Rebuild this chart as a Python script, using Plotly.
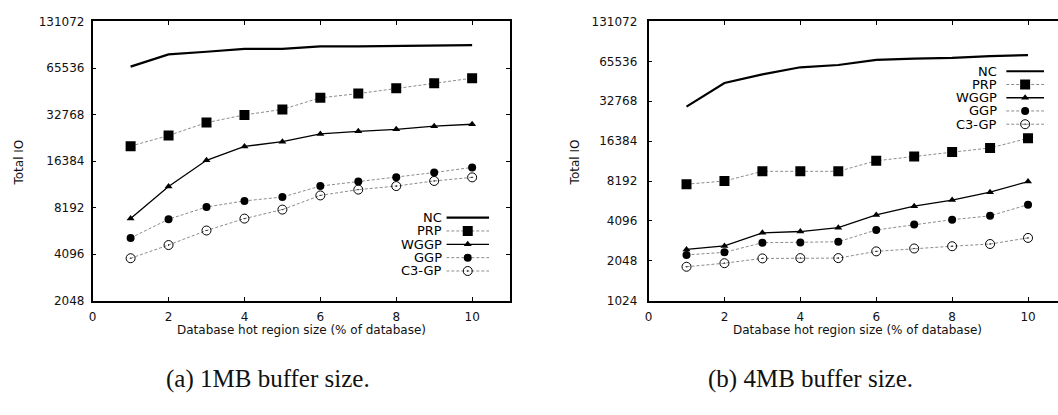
import math
import plotly.graph_objects as go

# ---------------- data ----------------
x_vals = [1, 2, 3, 4, 5, 6, 7, 8, 9, 10]
series_names = ["NC", "PRP", "WGGP", "GGP", "C3-GP"]

# (a) 1MB buffer size
nc_1mb = [66900, 80350, 83500, 87200, 87200, 90600, 90600, 91000, 92300, 92300]
prp_1mb = [20480, 23990, 29070, 32600, 35400, 42070, 44770, 48540, 52170, 56340]
wggp_1mb = [6960, 11245, 16580, 20380, 21900, 24580, 25530, 26290, 27580, 28370]
ggp_1mb = [5218, 6894, 8273, 9062, 9593, 11300, 12085, 12865, 13820, 14920]
c3gp_1mb = [3857, 4695, 5830, 6960, 7958, 9830, 10720, 11300, 12195, 12865]

# (b) 4MB buffer size
nc_4mb = [29840, 45050, 52350, 59150, 61530, 67250, 68750, 69560, 71900, 73030]
prp_4mb = [7766, 8192, 9703, 9703, 9703, 11660, 12530, 13550, 14565, 17210]
wggp_4mb = [2497, 2655, 3334, 3409, 3644, 4552, 5291, 5883, 6757, 8118]
ggp_4mb = [2271, 2374, 2806, 2815, 2853, 3505, 3854, 4188, 4477, 5438]
c3gp_4mb = [1848, 1966, 2137, 2148, 2148, 2415, 2539, 2640, 2744, 3051]

y_ticks_1mb = [2048, 4096, 8192, 16384, 32768, 65536, 131072]
y_ticks_4mb = [1024, 2048, 4096, 8192, 16384, 32768, 65536, 131072]
x_ticks = [0, 2, 4, 6, 8, 10]

x_title = "Database hot region size (% of database)"
y_title = "Total IO"
captions = ["(a) 1MB buffer size.", "(b) 4MB buffer size."]

# ---------------- styles ----------------
W, H = 1058, 415
GRAY = "#8c8c8c"
styles = {
    "NC":    dict(line=dict(color="black", width=2.2), mode="lines", marker=None),
    "PRP":   dict(line=dict(color=GRAY, width=1, dash="3px,2px"), mode="lines+markers",
                  marker=dict(symbol="square", size=10, color="black")),
    "WGGP":  dict(line=dict(color="black", width=1.3), mode="lines+markers",
                  marker=dict(symbol="triangle-up", size=7, color="black")),
    "GGP":   dict(line=dict(color=GRAY, width=1, dash="3px,2px"), mode="lines+markers",
                  marker=dict(symbol="circle", size=8, color="black")),
    "C3-GP": dict(line=dict(color=GRAY, width=1, dash="3px,2px"), mode="lines+markers",
                  marker=dict(symbol="circle-open-dot", size=9, color="black",
                              line=dict(width=1, color="black"))),
}

SANS = "DejaVu Sans, Liberation Sans, Arial, sans-serif"
TICK_FONT = dict(family=SANS, size=12, color="#111")

fig = go.Figure()

panels = [
    dict(data=[nc_1mb, prp_1mb, wggp_1mb, ggp_1mb, c3gp_1mb], xa="x", ya="y"),
    dict(data=[nc_4mb, prp_4mb, wggp_4mb, ggp_4mb, c3gp_4mb], xa="x2", ya="y2"),
]

for p in panels:
    for name, vals in zip(series_names, p["data"]):
        st = styles[name]
        kw = dict(x=x_vals, y=vals, mode=st["mode"], line=st["line"], name=name,
                  xaxis=p["xa"], yaxis=p["ya"], showlegend=False, hoverinfo="skip")
        if st["marker"] is not None:
            kw["marker"] = st["marker"]
        fig.add_trace(go.Scatter(**kw))

# ---------------- manual legends (gnuplot style: text left, sample right) ----------------
legend_boxes = [
    dict(xa="x3", ya="y3", x0=444, x1=487, top=218, step=13.8, gap=3),
    dict(xa="x4", ya="y4", x0=1006, x1=1044, top=66.5, step=13.7, gap=8),
]
for lb in legend_boxes:
    for i, name in enumerate(series_names):
        st = styles[name]
        fig.add_trace(go.Scatter(x=[0, 1], y=[i, i], mode="lines", line=st["line"],
                                 xaxis=lb["xa"], yaxis=lb["ya"], showlegend=False,
                                 hoverinfo="skip", cliponaxis=False))
        if st["marker"] is not None:
            fig.add_trace(go.Scatter(x=[0.5], y=[i], mode="markers", marker=st["marker"],
                                     xaxis=lb["xa"], yaxis=lb["ya"], showlegend=False,
                                     hoverinfo="skip", cliponaxis=False))
        fig.add_annotation(x=0, y=i, xref=lb["xa"], yref=lb["ya"], text=name,
                           showarrow=False, xanchor="right", yanchor="middle",
                           xshift=-lb["gap"], borderpad=0,
                           font=dict(family=SANS, size=13, color="black"))


def px_dom_x(a, b):
    return [a / W, min(b / W, 1.0)]


def px_dom_y(top, bottom):
    return [(H - bottom) / H, (H - top) / H]


PLOT_TOP, PLOT_BOT = 15, 304
L0, L1 = 89, 508
R0 = 647
PX_PER_UNIT = (L1 - L0) / 11.0

common_axis = dict(showline=True, linecolor="black", linewidth=1.5, ticks="inside",
                   ticklen=4, tickwidth=1, tickcolor="black", showgrid=False,
                   zeroline=False, tickfont=TICK_FONT)

fig.update_layout(
    width=W, height=H,
    margin=dict(l=0, r=0, t=0, b=0),
    paper_bgcolor="white", plot_bgcolor="white",
    showlegend=False,
    xaxis=dict(domain=px_dom_x(L0, L1), range=[0, 11], tickvals=x_ticks, anchor="y",
               mirror="ticks", ticklabelstandoff=4, **common_axis),
    yaxis=dict(domain=px_dom_y(PLOT_TOP, PLOT_BOT), type="log",
               range=[math.log10(y_ticks_1mb[0]), math.log10(y_ticks_1mb[-1])],
               tickvals=y_ticks_1mb, ticktext=[str(v) for v in y_ticks_1mb],
               anchor="x", mirror="ticks", ticklabelstandoff=4, **common_axis),
    xaxis2=dict(domain=px_dom_x(R0, W), range=[0, (W - R0) / PX_PER_UNIT], tickvals=x_ticks,
                anchor="y2", mirror="ticks", ticklabelstandoff=4, **common_axis),
    yaxis2=dict(domain=px_dom_y(PLOT_TOP, PLOT_BOT), type="log",
                range=[math.log10(y_ticks_4mb[0]), math.log10(y_ticks_4mb[-1])],
                tickvals=y_ticks_4mb, ticktext=[str(v) for v in y_ticks_4mb],
                anchor="x2", mirror=False, ticklabelstandoff=7, **common_axis),
)

for k, lb in zip((3, 4), legend_boxes):
    n = len(series_names)
    fig.layout[f"xaxis{k}"] = dict(domain=px_dom_x(lb["x0"], lb["x1"]), range=[0, 1],
                                   visible=False, anchor=f"y{k}", fixedrange=True)
    fig.layout[f"yaxis{k}"] = dict(domain=px_dom_y(lb["top"] - lb["step"] / 2,
                                                   lb["top"] + (n - 0.5) * lb["step"]),
                                   range=[n - 0.5, -0.5], visible=False, anchor=f"x{k}",
                                   fixedrange=True)

# axis titles and captions
title_font = dict(family=SANS, size=12, color="#111")
for cx, axis_px in (((L0 + L1) / 2, L0), ((R0 + R0 + (L1 - L0)) / 2, R0)):
    fig.add_annotation(x=cx / W, y=(H - 334) / H, xref="paper", yref="paper", text=x_title,
                       showarrow=False, xanchor="center", yanchor="middle", font=title_font)
    fig.add_annotation(x=(axis_px - 74) / W, y=(H - 161) / H, xref="paper", yref="paper",
                       text=y_title, textangle=-90, showarrow=False, xanchor="center",
                       yanchor="middle", font=title_font)

cap_font = dict(family="Liberation Serif, Times New Roman, serif", size=25, color="#111")
for cx, txt in zip((265, 810), captions):
    fig.add_annotation(x=cx / W, y=(H - 385) / H, xref="paper", yref="paper", text=txt,
                       showarrow=False, xanchor="center", yanchor="middle", font=cap_font)

fig.write_html("out.html")
